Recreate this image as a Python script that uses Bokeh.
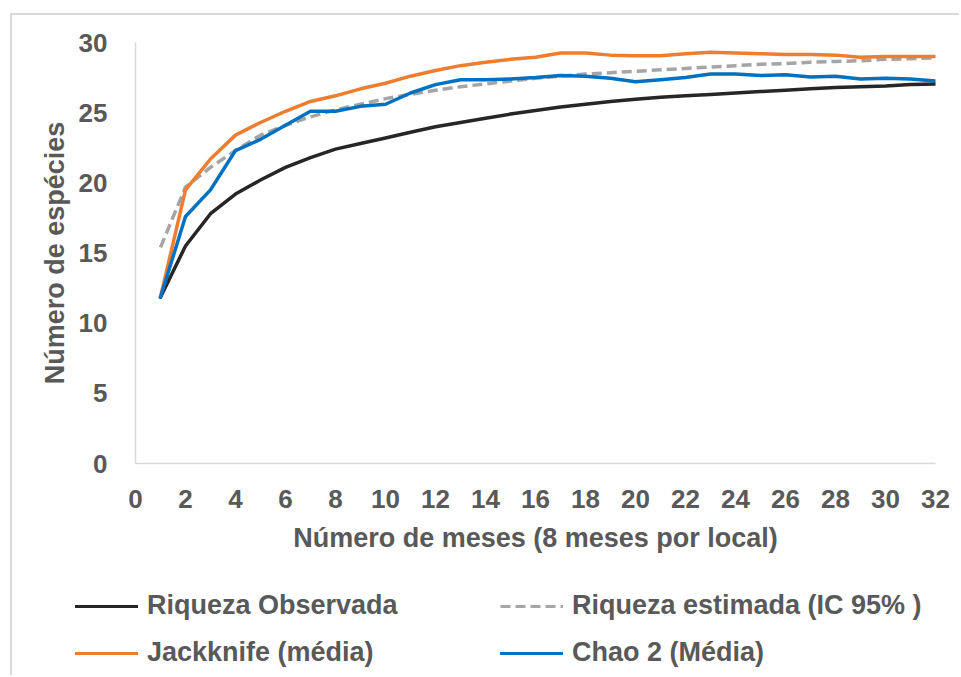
from bokeh.plotting import figure
from bokeh.models import Range1d, FixedTicker, Legend, LegendItem
from bokeh.embed import file_html
from bokeh.resources import INLINE

# Species accumulation by number of sampled months
months = list(range(1, 33))
observed = [11.85, 15.5, 17.8, 19.2, 20.2, 21.1, 21.8, 22.4, 22.8, 23.2, 23.6, 24.0,
            24.3, 24.6, 24.9, 25.15, 25.4, 25.6, 25.8, 25.95, 26.1, 26.2, 26.3, 26.4,
            26.5, 26.6, 26.7, 26.8, 26.85, 26.9, 27.0, 27.05]
estimated = [15.4, 19.7, 21.1, 22.3, 23.4, 24.1, 24.7, 25.2, 25.6, 26.0, 26.3, 26.6,
             26.85, 27.05, 27.25, 27.45, 27.6, 27.75, 27.85, 27.95, 28.05, 28.15, 28.25,
             28.35, 28.45, 28.5, 28.6, 28.65, 28.7, 28.8, 28.85, 28.9]
jackknife = [11.85, 19.5, 21.7, 23.4, 24.3, 25.1, 25.8, 26.2, 26.7, 27.1, 27.6, 28.0,
             28.35, 28.6, 28.8, 28.95, 29.25, 29.25, 29.1, 29.05, 29.05, 29.2, 29.3,
             29.25, 29.2, 29.15, 29.15, 29.1, 28.95, 29.0, 29.0, 29.0]
chao2 = [11.85, 17.6, 19.5, 22.3, 23.1, 24.1, 25.1, 25.1, 25.45, 25.6, 26.4, 27.0,
         27.35, 27.35, 27.4, 27.5, 27.65, 27.6, 27.45, 27.2, 27.35, 27.5, 27.75, 27.75,
         27.65, 27.7, 27.55, 27.6, 27.4, 27.45, 27.4, 27.25]

x_ticks = list(range(0, 33, 2))
y_ticks = list(range(0, 31, 5))

series_labels = ["Riqueza Observada", "Riqueza estimada (IC 95% )",
                 "Jackknife (média)", "Chao 2 (Média)"]

FONT = "Liberation Sans"
TEXT = "#595959"
AXIS_LINE = "#d9d9d9"
FRAME = "2px solid #d9d9d9"

styles = [
    dict(line_color="#262626", line_width=3.5, line_join="round", line_cap="round"),
    dict(line_color="#a5a5a5", line_width=3.5, line_dash="10 5"),
    dict(line_color="#ed7d31", line_width=3.5, line_join="round", line_cap="round"),
    dict(line_color="#0070c0", line_width=3.5, line_join="round", line_cap="round"),
]

# Main chart
p = figure(width=949, height=560,
           x_range=Range1d(0, 32), y_range=Range1d(0, 30),
           output_backend="svg", toolbar_location=None,
           min_border_left=123, min_border_right=26,
           min_border_top=27, min_border_bottom=112,
           margin=(13, 0, 0, 10),
           styles={"border-left": FRAME, "border-top": FRAME})

p.outline_line_color = None
p.grid.visible = False

p.xaxis.ticker = FixedTicker(ticks=x_ticks)
p.yaxis.ticker = FixedTicker(ticks=y_ticks)
p.xaxis.axis_label = "Número de meses (8 meses por local)"
p.yaxis.axis_label = "Número de espécies"

for ax in (p.xaxis, p.yaxis):
    ax.axis_line_color = AXIS_LINE
    ax.axis_line_width = 1.5
    ax.major_tick_line_color = None
    ax.minor_tick_line_color = None
    ax.major_label_text_font = FONT
    ax.major_label_text_font_style = "bold"
    ax.major_label_text_font_size = "26px"
    ax.major_label_text_color = TEXT
    ax.axis_label_text_font = FONT
    ax.axis_label_text_font_style = "bold"
    ax.axis_label_text_font_size = "27px"
    ax.axis_label_text_color = TEXT

p.xaxis.major_label_standoff = 20
p.yaxis.major_label_standoff = 22
p.xaxis.axis_label_standoff = 12
p.yaxis.axis_label_standoff = 6

for ys, st in zip([observed, estimated, jackknife, chao2], styles):
    p.line(months, ys, **st)

# Legend strip below the chart: two columns of two entries.
# The key lines sit outside the strip's ranges, so only the legend shows.
lg_fig = figure(width=949, height=102,
                x_range=Range1d(0, 1), y_range=Range1d(0, 1),
                x_axis_type=None, y_axis_type=None,
                output_backend="svg", toolbar_location=None, min_border=0,
                margin=(0, 0, 0, 10), styles={"border-left": FRAME})
lg_fig.outline_line_color = None
lg_fig.grid.visible = False

key_styles = [dict(st, line_width=3) for st in styles]
keys = [lg_fig.line([-2, -1], [-2, -1], **st) for st in key_styles]


def make_legend(idx, loc):
    lg = Legend(items=[LegendItem(label=series_labels[i], renderers=[keys[i]]) for i in idx],
                orientation="vertical", location=loc)
    lg.glyph_width = 63
    lg.glyph_height = 30
    lg.label_height = 30
    lg.spacing = 16
    lg.padding = 0
    lg.margin = 0
    lg.label_standoff = 9
    lg.label_text_font = FONT
    lg.label_text_font_style = "bold"
    lg.label_text_font_size = "27px"
    lg.label_text_color = TEXT
    lg.border_line_color = None
    lg.background_fill_alpha = 0
    return lg


lg_fig.add_layout(make_legend([0, 2], (63, 7)))
lg_fig.add_layout(make_legend([1, 3], (488, 7)))

open("out.html", "w").write(file_html([p, lg_fig], INLINE))
